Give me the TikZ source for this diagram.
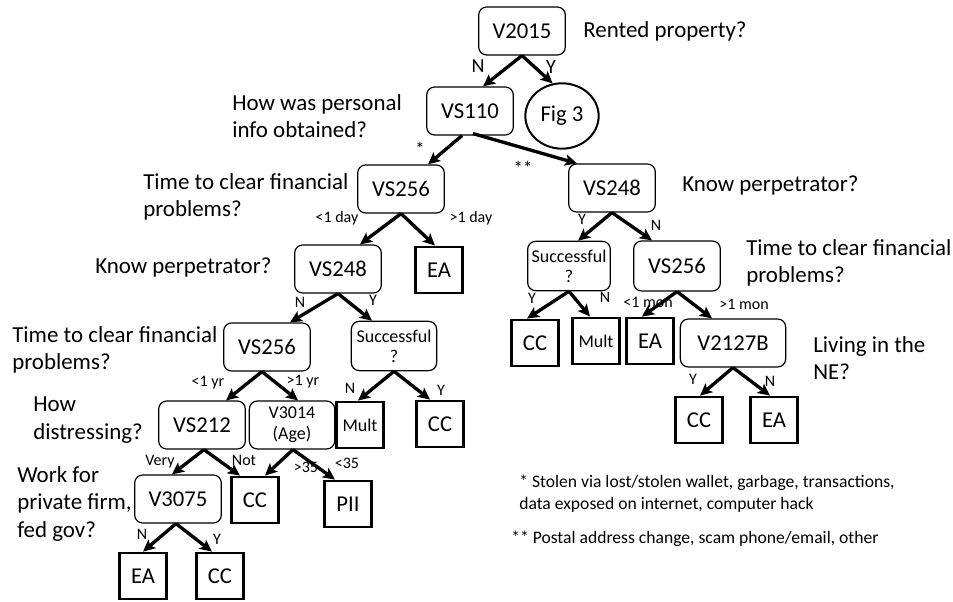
\documentclass[tikz,border=0pt]{standalone}
\usepackage{fontspec}
\setmainfont{Carlito}
\usetikzlibrary{arrows.meta,calc,shapes.geometric}
\begin{document}
\begin{tikzpicture}[x=0.75pt,y=-0.75pt,
  rbox/.style={draw,rounded corners=6pt,line width=0.9pt,minimum width=65pt,minimum height=36pt,inner sep=1pt,font=\fontsize{17}{18}\selectfont,align=center},
  sbox/.style={rbox,minimum width=62pt,minimum height=37pt,font=\fontsize{13.5}{15}\selectfont},
  leaf/.style={draw,line width=2.1pt,minimum width=35pt,minimum height=34.5pt,inner sep=1pt,font=\fontsize{17}{18}\selectfont},
  sleaf/.style={leaf,font=\fontsize{13.5}{15}\selectfont},
  quest/.style={anchor=west,align=left,inner sep=0pt,font=\fontsize{17.2}{20.5}\selectfont},
  elab/.style={inner sep=0pt,font=\fontsize{12}{13}\selectfont},
  note/.style={anchor=west,align=left,inner sep=0pt,font=\fontsize{13.2}{16.5}\selectfont},
  arr/.style={line width=2.5pt,-{Stealth[length=9pt,width=8.5pt,inset=2pt]}}]
\useasboundingbox (0,0) rectangle (953,602);
% decision nodes
\node[rbox] (v2015) at (522,31) {V2015};
\node[rbox] (vs110) at (470,111) {VS110};
\node[draw,ellipse,line width=1.5pt,minimum width=55pt,minimum height=49pt,inner sep=0pt,font=\fontsize{17}{18}\selectfont] (fig3) at (562,116) {Fig 3};
\node[rbox] (vs256a) at (401,189) {VS256};
\node[rbox] (vs248r) at (612,188) {VS248};
\node[rbox] (vs248l) at (338,269) {VS248};
\node[leaf] (eaa) at (439,270) {EA};
\node[sbox] (succr) at (569,266) {Successful\\?};
\node[rbox,minimum height=37.5pt] (vs256r) at (677,266) {VS256};
\node[leaf] (ccr) at (535,343) {CC};
\node[sleaf] (multr) at (596,341) {Mult};
\node[leaf] (ear) at (650,341) {EA};
\node[rbox,minimum width=79pt] (v2127b) at (733,343) {V2127B};
\node[leaf] (ccr2) at (699,420) {CC};
\node[leaf] (ear2) at (774,420) {EA};
\node[rbox] (vs256l) at (267,347) {VS256};
\node[sbox,minimum width=64pt] (succl) at (394,346) {Successful\\?};
\node[rbox] (vs212) at (202,425) {VS212};
\node[rbox,minimum width=64pt,font=\fontsize{13.5}{16}\selectfont] (v3014) at (292,425) {V3014\\(Age)};
\node[sleaf] (multl) at (360,425) {Mult};
\node[leaf] (ccl) at (440,424) {CC};
\node[rbox] (v3075) at (178,499) {V3075};
\node[leaf] (ccm) at (255,500) {CC};
\node[leaf] (pii) at (348,504) {PII};
\node[leaf] (eab) at (143,576) {EA};
\node[leaf] (ccb) at (220,576) {CC};
% questions
\node[quest] (q1) at (583,31) {Rented property?};
\node[quest] (q2) at (232,116) {How was personal\\info obtained?};
\node[quest] (q3) at (143,197) {Time to clear financial\\problems?};
\node[quest] (q4) at (682,186) {Know perpetrator?};
\node[quest] (q5) at (95,268) {Know perpetrator?};
\node[quest] (q6) at (746,263) {Time to clear financial\\problems?};
\node[quest] (q7) at (12,350) {Time to clear financial\\problems?};
\node[quest] (q8) at (813,358) {Living in the\\NE?};
\node[quest] (q9) at (33,420) {How\\distressing?};
\node[quest] (q10) at (17,504) {Work for\\private firm,\\fed gov?};
% footnotes
\node[note] (n1) at (519,494) {* Stolen via lost/stolen wallet, garbage, transactions,\\data exposed on internet, computer hack};
\node[note] (n2) at (511,539) {** Postal address change, scam phone/email, other};
% edges
\draw[arr] (v2015.south) -- ($(vs110.north)+(13,0)$);
\draw[arr] (v2015.south) -- (fig3.106);
\draw[arr] ($(vs110.south)+(-8,0)$) -- ($(vs256a.north)+(27,0)$);
\draw[arr] ($(vs110.south)+(3,-2)$) -- ($(vs248r.north)+(-35,0)$);
\draw[arr] (vs256a.south) -- ($(vs248l.north)+(22,0)$);
\draw[arr] (vs256a.south) -- ($(eaa.north)+(-4,0)$);
\draw[arr] (vs248r.south) -- ($(succr.north)+(9,0)$);
\draw[arr] (vs248r.south) -- ($(vs256r.north)+(-25,0)$);
\draw[arr] (succr.south) -- ($(ccr.north)+(-8,0)$);
\draw[arr] (succr.south) -- ($(multr.north)+(-6,0)$);
\draw[arr] (vs256r.south) -- ($(ear.north)+(-8,0)$);
\draw[arr] (vs256r.south) -- ($(v2127b.north)+(-21,0)$);
\draw[arr] (v2127b.south) -- ($(ccr2.north)+(1,0)$);
\draw[arr] (v2127b.south) -- ($(ear2.north)+(-4,0)$);
\draw[arr] (vs248l.south) -- ($(vs256l.north)+(23,0)$);
\draw[arr] (vs248l.south) -- ($(succl.north)+(-22,0)$);
\draw[arr] ($(vs256l.south)+(-5,0)$) -- ($(vs212.north)+(24,0)$);
\draw[arr] ($(vs256l.south)+(-5,0)$) -- ($(v3014.north)+(6,0)$);
\draw[arr] (succl.south) -- ($(multl.north)+(-2,0)$);
\draw[arr] (succl.south) -- ($(ccl.north)+(-10,0)$);
\draw[arr] ($(vs212.south)+(2,0)$) -- ($(v3075.north)+(-6,0)$);
\draw[arr] ($(vs212.south)+(2,0)$) -- ($(ccm.north)+(-15,0)$);
\draw[arr] ($(v3014.south)+(1,0)$) -- ($(ccm.north)+(10,0)$);
\draw[arr] ($(v3014.south)+(1,0)$) -- ($(pii.north)+(-13,0)$);
\draw[arr] ($(v3075.south)+(-2,0)$) -- (eab.north);
\draw[arr] ($(v3075.south)+(-2,0)$) -- ($(ccb.north)+(-8,0)$);
% edge labels
\node[elab,font=\fontsize{15}{16}\selectfont] (l1) at (478,66) {N};
\node[elab,font=\fontsize{15}{16}\selectfont] (l2) at (551,67) {Y};
\node[elab,font=\fontsize{14}{15}\selectfont] (l3) at (420,149) {*};
\node[elab,font=\fontsize{14}{15}\selectfont] (l4) at (523,168) {**};
\node[elab] (l5) at (337,218) {<1 day};
\node[elab] (l6) at (471,218) {>1 day};
\node[elab] (l7) at (582,219) {Y};
\node[elab] (l8) at (656,225) {N};
\node[elab] (l9) at (532,298) {Y};
\node[elab] (l10) at (605,297) {N};
\node[elab] (l11) at (648,302) {<1 mon};
\node[elab] (l12) at (744,304) {>1 mon};
\node[elab] (l13) at (693,379) {Y};
\node[elab] (l14) at (770,381) {N};
\node[elab] (l15) at (300,302) {N};
\node[elab] (l16) at (373,300) {Y};
\node[elab] (l17) at (208,383) {<1 yr};
\node[elab] (l18) at (303,382) {>1 yr};
\node[elab] (l19) at (350,388) {N};
\node[elab] (l20) at (441,390) {Y};
\node[elab] (l21) at (160,462) {Very};
\node[elab] (l22) at (244,460) {Not};
\node[elab] (l23) at (306,467) {>35};
\node[elab] (l24) at (347,463) {<35};
\node[elab] (l25) at (142,534) {N};
\node[elab] (l26) at (217,539) {Y};
\end{tikzpicture}
\end{document}
